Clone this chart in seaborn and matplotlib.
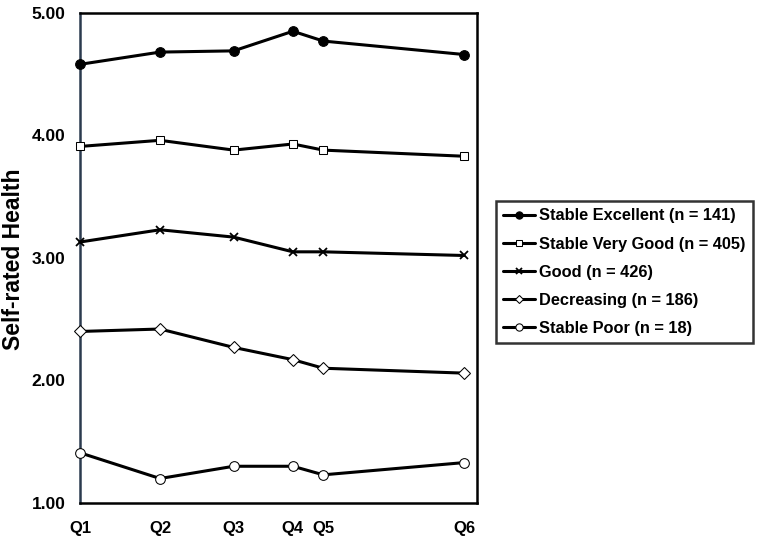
import matplotlib
matplotlib.use("Agg")
import matplotlib.pyplot as plt
import numpy as np
import pandas as pd
import seaborn as sns

# data
waves = ["Q1", "Q2", "Q3", "Q4", "Q5", "Q6"]
wave_pos = [0, 5.0, 9.6, 13.3, 15.2, 24]  # uneven spacing between waves

groups = ["Stable Excellent (n = 141)", "Stable Very Good (n = 405)", "Good (n = 426)",
          "Decreasing (n = 186)", "Stable Poor (n = 18)"]
stable_excellent = [4.58, 4.68, 4.69, 4.85, 4.77, 4.66]
stable_very_good = [3.91, 3.96, 3.88, 3.93, 3.88, 3.83]
good = [3.13, 3.23, 3.17, 3.05, 3.05, 3.02]
decreasing = [2.40, 2.42, 2.27, 2.17, 2.10, 2.06]
stable_poor = [1.41, 1.20, 1.30, 1.30, 1.23, 1.33]

series = [stable_excellent, stable_very_good, good, decreasing, stable_poor]
df = pd.concat([pd.DataFrame({"pos": wave_pos, "srh": vals, "group": g})
                for g, vals in zip(groups, series)])

marker_style = {
    groups[0]: dict(marker="o", markersize=7, markerfacecolor="black"),
    groups[1]: dict(marker="s", markersize=6, markerfacecolor="white"),
    groups[2]: dict(marker="x", markersize=6, markeredgewidth=1.3),
    groups[3]: dict(marker="D", markersize=6, markerfacecolor="white"),
    groups[4]: dict(marker="o", markersize=7, markerfacecolor="white"),
}

sns.set_theme(style="white")
plt.rcParams["font.family"] = ["Liberation Sans", "DejaVu Sans"]
plt.rcParams["font.weight"] = "bold"
plt.rcParams["text.color"] = "black"
plt.rcParams["axes.labelcolor"] = "black"
plt.rcParams["xtick.color"] = "black"
plt.rcParams["ytick.color"] = "black"

fig = plt.figure(figsize=(7.64, 5.41), dpi=100)
ax = fig.add_axes([0.1047, 0.0702, 0.5196, 0.906])

for g in groups:
    sns.lineplot(data=df[df["group"] == g], x="pos", y="srh", ax=ax, color="black",
                 linewidth=2.2, markeredgecolor="black", label=g, clip_on=False,
                 zorder=3, **marker_style[g])

ax.set_xlim(wave_pos[0], wave_pos[-1] + 0.8)
ax.set_ylim(1, 5)
ax.set_xticks(wave_pos)
ax.set_xticklabels(waves, fontsize=12, fontweight="bold")
ax.set_yticks([1, 2, 3, 4, 5])
ax.set_yticklabels([f"{v:.2f}" for v in [1, 2, 3, 4, 5]], fontsize=12.5, fontweight="bold")
ax.tick_params(axis="x", direction="in", length=9, width=1.5, color="black", pad=13)
ax.tick_params(axis="y", length=0, pad=10.5)
ax.set_xlabel("")
ax.set_ylabel("Self-rated Health", fontsize=16.5, fontweight="bold")
ax.yaxis.set_label_coords(-0.1385, 0.498)

for side in ["top", "right", "bottom"]:
    ax.spines[side].set_color("black")
    ax.spines[side].set_linewidth(1.8)
ax.spines["left"].set_color("#2b3a4e")
ax.spines["left"].set_linewidth(1.8)

leg = ax.legend(loc="upper left", bbox_to_anchor=(1.048, 0.616), frameon=True,
                fancybox=False, edgecolor="black", fontsize=11.8,
                handlelength=1.9, handletextpad=0.3, labelspacing=0.8,
                borderpad=0.45, markerscale=0.75, borderaxespad=0)
leg.get_frame().set_linewidth(1.8)
for txt in leg.get_texts():
    txt.set_fontweight("bold")

fig.savefig("out.png", dpi=100)
